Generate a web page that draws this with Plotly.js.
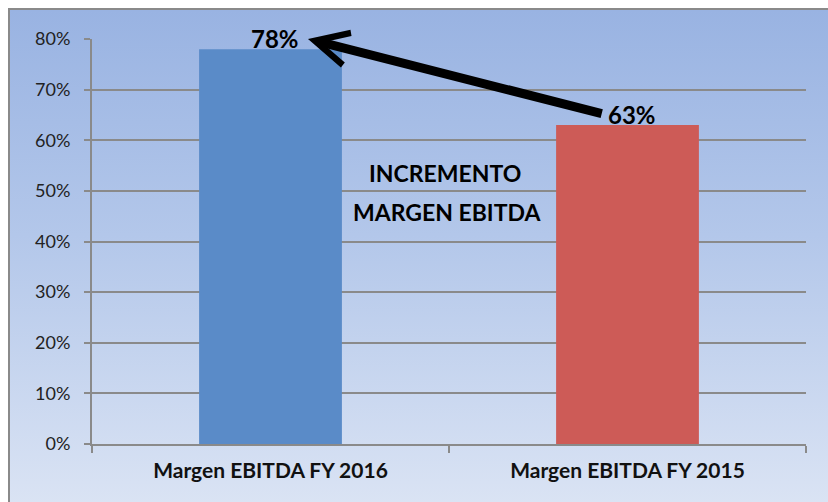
<!DOCTYPE html>
<html>
<head>
<meta charset="utf-8">
<script src="https://cdn.plot.ly/plotly-3.0.1.min.js"></script>
<style>
html,body{margin:0;padding:0;background:#fff;width:828px;height:502px;overflow:hidden;}
#bg{position:absolute;left:8px;top:8px;width:830px;height:500px;border-left:2px solid #8a8a8a;border-top:2px solid #8a8a8a;
background:linear-gradient(to bottom,#99b3e2 0%,#b3c7ea 45%,#dbe4f4 100%);}
#chart{position:absolute;left:0;top:0;width:828px;height:502px;}
</style>
</head>
<body>
<div id="bg"></div>
<div id="chart"></div>
<script>
const categories = ["Margen EBITDA FY 2016", "Margen EBITDA FY 2015"];
const values = [0.78, 0.63];
const barColors = ["#5a8bc8", "#cd5b57"];
const valueLabels = ["78%", "63%"];
const yTicks = [0, 0.1, 0.2, 0.3, 0.4, 0.5, 0.6, 0.7, 0.8];
const yTickText = ["0%", "10%", "20%", "30%", "40%", "50%", "60%", "70%", "80%"];
const noteLine1 = "INCREMENTO";
const noteLine2 = "MARGEN EBITDA";

const FONT = "Lato, 'Open Sans', sans-serif";

const trace = {
  type: "bar",
  x: categories,
  y: values,
  marker: {color: barColors},
  cliponaxis: false,
  hoverinfo: "none"
};

const valueAnnotations = categories.map((c, i) => ({
  xref: "x", yref: "y", x: c, y: values[i],
  text: valueLabels[i], showarrow: false,
  yanchor: "middle", yshift: 11, xshift: 4,
  font: {family: FONT, size: 24, color: "#000", weight: "bold"}
}));

const layout = {
  width: 828, height: 502,
  margin: {l: 92, r: 22, t: 39, b: 58},
  paper_bgcolor: "rgba(0,0,0,0)",
  plot_bgcolor: "rgba(0,0,0,0)",
  showlegend: false,
  bargap: 0.6,
  font: {family: FONT, color: "#222"},
  xaxis: {
    type: "category",
    showgrid: false,
    showline: true, linecolor: "#8a8a8a", linewidth: 2,
    ticks: "outside", ticklen: 7, tickcolor: "#8a8a8a", tickwidth: 2,
    tickson: "boundaries",
    ticklabelstandoff: 7,
    tickfont: {family: FONT, size: 21, color: "#111", weight: "bold"},
    zeroline: false
  },
  yaxis: {
    range: [0, 0.8],
    tickvals: yTicks, ticktext: yTickText,
    showgrid: true, gridcolor: "#8a8a8a", gridwidth: 2,
    showline: true, linecolor: "#8a8a8a", linewidth: 2,
    ticks: "outside", ticklen: 6, tickcolor: "#8a8a8a", tickwidth: 2,
    ticklabelstandoff: 10,
    tickfont: {family: FONT, size: 18, color: "#222"},
    zeroline: false
  },
  annotations: [
    {
      xref: "paper", yref: "y", x: 0.3025, y: 0.8,
      axref: "paper", ayref: "y", ax: 0.716, ay: 0.652,
      showarrow: true, arrowhead: 5, arrowsize: 0.72, arrowwidth: 9, arrowcolor: "#000",
      text: ""
    },
    {
      xref: "paper", yref: "y", x: 0.494, y: 0.536,
      text: noteLine1, showarrow: false,
      font: {family: FONT, size: 23, color: "#000", weight: "bold"}
    },
    {
      xref: "paper", yref: "y", x: 0.497, y: 0.459,
      text: noteLine2, showarrow: false,
      font: {family: FONT, size: 23, color: "#000", weight: "bold"}
    }
  ].concat(valueAnnotations)
};

Plotly.newPlot("chart", [trace], layout, {displayModeBar: false, staticPlot: true});
</script>
</body>
</html>
